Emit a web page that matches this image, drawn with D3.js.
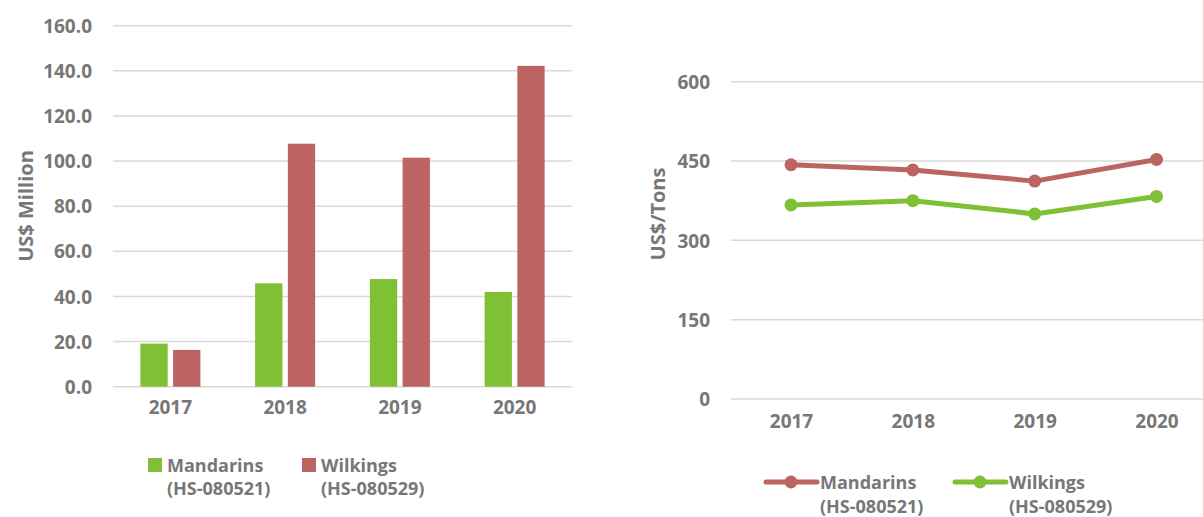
<!DOCTYPE html>
<html>
  <head>
    <meta charset="utf-8">
    <title>Mandarins and Wilkings</title>
    <style>
      body { margin: 0; background: #fff; }
      text { font-family: "Open Sans", sans-serif; font-weight: bold; fill: #777; }
    </style>
  </head>
  <body>
    <div id="chart"></div>
    <script src="https://d3js.org/d3.v7.min.js"></script>
    <script>
      // data
      var years      = ["2017", "2018", "2019", "2020"]
      var series     = ["Mandarins", "Wilkings"]
      var seriesCode = ["(HS-080521)", "(HS-080529)"]
      var valueMillion = {
        Mandarins: [19.1, 45.8, 47.7, 42.0],
        Wilkings:  [16.3, 107.7, 101.5, 142.2]
      }
      var pricePerTon = {
        Mandarins: [443, 433, 412, 453],
        Wilkings:  [367, 375, 350, 383]
      }
      var barTicks  = [0, 20, 40, 60, 80, 100, 120, 140, 160]
      var lineTicks = [0, 150, 300, 450, 600]

      var green = "#80c034", red = "#bc6462", grid = "#d9d9d9"
      var barColor  = { Mandarins: green, Wilkings: red }
      var lineColor = { Mandarins: red, Wilkings: green }   // swapped in the source chart

      var W = 1203, H = 517
      var tickFont = "19px"

      var svg = d3.select("#chart").append("svg")
          .attr("width", W)
          .attr("height", H)

      /* ---------- left: bar chart ---------- */
      var left = svg.append("g")

      var y1 = d3.scaleLinear().domain([0, 160]).range([386.7, 25.7])
      var x0 = d3.scaleBand().domain(years).range([113, 572])
          .paddingInner(0.477).paddingOuter(0.2385)
      var xs = d3.scaleBand().domain(series).range([0, x0.bandwidth()]).paddingInner(0.165)

      left.append("g").selectAll("line")
          .data(barTicks)
          .enter().append("line")
          .attr("x1", 113).attr("x2", 572)
          .attr("y1", function(d){ return y1(d) })
          .attr("y2", function(d){ return y1(d) })
          .attr("stroke", grid)
          .attr("stroke-width", 1.5)

      var yAx1 = left.append("g")
          .attr("transform", "translate(92,0)")
          .call(d3.axisLeft(y1).tickValues(barTicks).tickFormat(d3.format(".1f")).tickSize(0).tickPadding(0))
      yAx1.select(".domain").remove()
      yAx1.selectAll("text").style("font-size", tickFont).attr("dy", "0.35em")

      var groups = left.append("g").selectAll("g")
          .data(years)
          .enter().append("g")
          .attr("transform", function(d){ return "translate(" + x0(d) + ",0)" })

      groups.selectAll("rect")
          .data(function(d, i){ return series.map(function(s){ return { s: s, v: valueMillion[s][i] } }) })
          .enter().append("rect")
          .attr("x", function(d){ return xs(d.s) })
          .attr("width", xs.bandwidth())
          .attr("y", function(d){ return y1(d.v) })
          .attr("height", function(d){ return y1(0) - y1(d.v) })
          .attr("fill", function(d){ return barColor[d.s] })

      var xAx1 = left.append("g")
          .attr("transform", "translate(0,400)")
          .call(d3.axisBottom(x0).tickSize(0).tickPadding(0))
      xAx1.select(".domain").remove()
      xAx1.selectAll("text").style("font-size", tickFont).attr("dy", "0.71em")

      left.append("text")
          .attr("transform", "translate(26,206)rotate(-90)")
          .attr("text-anchor", "middle")
          .attr("dy", "0.35em")
          .style("font-size", "20px")
          .text("US$ Million")

      // legend
      var legX1 = [148, 302]
      series.forEach(function(s, i){
        var g = left.append("g").attr("transform", "translate(" + legX1[i] + ",458)")
        g.append("rect").attr("width", 14).attr("height", 14).attr("fill", barColor[s])
        g.append("text").attr("x", 19).attr("y", 14).style("font-size", "18px").text(s)
        g.append("text").attr("x", 19).attr("y", 37).style("font-size", "18px").text(seriesCode[i])
      })

      /* ---------- right: line chart ---------- */
      var right = svg.append("g")

      var y2 = d3.scaleLinear().domain([0, 600]).range([399, 81.7])
      var x2 = d3.scalePoint().domain(years).range([791, 1156.5])

      right.append("g").selectAll("line")
          .data(lineTicks)
          .enter().append("line")
          .attr("x1", 731).attr("x2", W)
          .attr("y1", function(d){ return y2(d) })
          .attr("y2", function(d){ return y2(d) })
          .attr("stroke", grid)
          .attr("stroke-width", 1.5)

      var yAx2 = right.append("g")
          .attr("transform", "translate(710,0)")
          .call(d3.axisLeft(y2).tickValues(lineTicks).tickSize(0).tickPadding(0))
      yAx2.select(".domain").remove()
      yAx2.selectAll("text").style("font-size", tickFont).attr("dy", "0.35em")

      var xAx2 = right.append("g")
          .attr("transform", "translate(0,414)")
          .call(d3.axisBottom(x2).tickSize(0).tickPadding(0))
      xAx2.select(".domain").remove()
      xAx2.selectAll("text").style("font-size", tickFont).attr("dy", "0.71em")

      var line = d3.line()
          .x(function(d, i){ return x2(years[i]) })
          .y(function(d){ return y2(d) })

      series.forEach(function(s){
        right.append("path")
            .datum(pricePerTon[s])
            .attr("d", line)
            .attr("fill", "none")
            .attr("stroke", lineColor[s])
            .attr("stroke-width", 5)
            .attr("stroke-linejoin", "round")

        right.append("g").selectAll("circle")
            .data(pricePerTon[s])
            .enter().append("circle")
            .attr("cx", function(d, i){ return x2(years[i]) })
            .attr("cy", function(d){ return y2(d) })
            .attr("r", 6.5)
            .attr("fill", lineColor[s])
      })

      right.append("text")
          .attr("transform", "translate(658,214)rotate(-90)")
          .attr("text-anchor", "middle")
          .attr("dy", "0.35em")
          .style("font-size", "20px")
          .text("US$/Tons")

      var legX2 = [766, 955]
      series.forEach(function(s, i){
        var g = right.append("g").attr("transform", "translate(" + legX2[i] + ",482)")
        g.append("line").attr("x1", 0).attr("x2", 51)
            .attr("stroke", lineColor[s]).attr("stroke-width", 5).attr("stroke-linecap", "round")
        g.append("circle").attr("cx", 25).attr("r", 6.5).attr("fill", lineColor[s])
        g.append("text").attr("x", 54).attr("y", 7).style("font-size", "18px").text(s)
        g.append("text").attr("x", 54).attr("y", 31).style("font-size", "18px").text(seriesCode[i])
      })
    </script>
  </body>
</html>
